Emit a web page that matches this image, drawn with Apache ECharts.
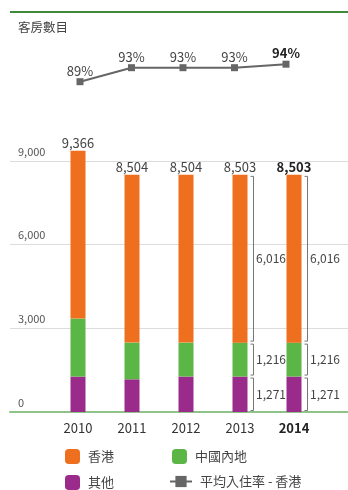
<!DOCTYPE html>
<html>
<head>
<meta charset="utf-8">
<script src="https://cdn.jsdelivr.net/npm/echarts@6/dist/echarts.min.js"></script>
<style>
  html, body { margin: 0; padding: 0; background: #fff; }
  #main { width: 348px; height: 490px; }
</style>
</head>
<body>
<div id="main"></div>
<script>
var years = ['2010', '2011', '2012', '2013', '2014'];
var hkRooms = [6016, 6016, 6016, 6016, 6016];
var cnRooms = [2079, 1316, 1217, 1216, 1216];
var otherRooms = [1271, 1172, 1271, 1271, 1271];
var occupancy = [89, 93, 93, 93, 94];
var bracketYears = ['2013', '2014'];

var FONT = "'Noto Sans CJK TC',sans-serif";
var ORANGE = '#ee6f1e', GREEN = '#5bb646', PURPLE = '#9b2b8a', GREY = '#666666';

function fmt(v) {
    return String(v).replace(/\B(?=(\d{3})+(?!\d))/g, ',');
}

var totals = [];
for (var i = 0; i < years.length; i++) {
    totals.push(hkRooms[i] + cnRooms[i] + otherRooms[i]);
}

// top (hk) series carries the total label
var hkData = [];
for (var i = 0; i < years.length; i++) {
    hkData.push({
        value: hkRooms[i],
        label: {
            formatter: fmt(totals[i]),
            fontWeight: years[i] == '2014' ? 'bold' : 'normal',
            color: years[i] == '2014' ? '#222' : '#444'
        }
    });
}

var lineData = [];
for (var i = 0; i < years.length; i++) {
    lineData.push({
        value: occupancy[i],
        label: {
            fontWeight: years[i] == '2014' ? 'bold' : 'normal',
            color: years[i] == '2014' ? '#222' : '#444'
        }
    });
}

// bracket segments beside the 2013 / 2014 bars
var bracketData = [];
for (var i = 0; i < years.length; i++) {
    if (bracketYears.indexOf(years[i]) < 0) continue;
    var a = otherRooms[i], b = a + cnRooms[i], c = b + hkRooms[i];
    bracketData.push([years[i], 0, a, fmt(otherRooms[i])]);
    bracketData.push([years[i], a, b, fmt(cnRooms[i])]);
    bracketData.push([years[i], b, c, fmt(hkRooms[i])]);
}

var legendText = { fontFamily: FONT, fontSize: 13, color: '#444', padding: [0, 0, 0, 3] };

var myChart = echarts.init(document.getElementById('main'));
var option = {
    animation: false,
    textStyle: { fontFamily: FONT },
    title: {
        text: '客房數目',
        left: 18,
        top: 21,
        padding: 0,
        textStyle: { fontFamily: FONT, fontSize: 12.5, fontWeight: 'normal', color: '#444' }
    },
    graphic: [
        { type: 'rect', left: 10, top: 11, shape: { width: 338, height: 2 }, style: { fill: '#3f8a3a' } }
    ],
    legend: [
        { data: ['香港'], left: 65, top: 449, padding: 0, itemWidth: 15, itemHeight: 15, textStyle: legendText },
        { data: ['中國內地'], left: 172, top: 449, padding: 0, itemWidth: 15, itemHeight: 15, textStyle: legendText },
        { data: ['其他'], left: 65, top: 475, padding: 0, itemWidth: 15, itemHeight: 15, textStyle: legendText },
        { data: ['平均入住率 - 香港'], left: 169, top: 475, padding: 0, itemWidth: 22, itemHeight: 14, textStyle: legendText }
    ],
    grid: [
        // full-width grid: gridlines, y labels, green baseline
        { left: 10, right: 0, top: 161, height: 251 },
        // bars
        { left: 51, right: 27, top: 161, height: 251 },
        // occupancy line
        { left: 54.25, right: 36.25, top: 53.7, height: 42 }
    ],
    xAxis: [
        {
            gridIndex: 0,
            type: 'value',
            min: 0,
            max: 1,
            splitLine: { show: false },
            axisLine: { show: true, lineStyle: { color: '#8fc38a', width: 2 } },
            axisTick: { show: false },
            axisLabel: { show: false }
        },
        {
            gridIndex: 1,
            type: 'category',
            data: years,
            axisLine: { show: false },
            axisTick: { show: false },
            axisLabel: {
                interval: 0,
                margin: 10,
                fontSize: 13,
                color: '#333',
                formatter: function (v) {
                    return v == '2014' ? '{b|' + v + '}' : v;
                },
                rich: { b: { fontWeight: 'bold', fontSize: 13, color: '#222', fontFamily: FONT } }
            }
        },
        {
            gridIndex: 2,
            type: 'category',
            data: years,
            show: false
        }
    ],
    yAxis: [
        {
            gridIndex: 0,
            type: 'value',
            min: 0,
            max: 9000,
            interval: 3000,
            axisLine: { show: false },
            axisTick: { show: false },
            splitLine: { lineStyle: { color: '#dddddd', width: 1 } },
            axisLabel: {
                inside: true,
                margin: 8,
                verticalAlign: 'bottom',
                padding: [0, 0, 4, 0],
                fontSize: 11,
                color: '#555',
                formatter: function (v) { return fmt(v); }
            }
        },
        {
            gridIndex: 1,
            type: 'value',
            min: 0,
            max: 9000,
            show: false
        },
        {
            gridIndex: 2,
            type: 'value',
            min: 85,
            max: 97,
            show: false
        }
    ],
    series: [
        {
            name: '其他',
            type: 'bar',
            xAxisIndex: 1,
            yAxisIndex: 1,
            stack: 'rooms',
            barWidth: 15,
            clip: false,
            itemStyle: { color: PURPLE },
            data: otherRooms
        },
        {
            name: '中國內地',
            type: 'bar',
            xAxisIndex: 1,
            yAxisIndex: 1,
            stack: 'rooms',
            barWidth: 15,
            clip: false,
            itemStyle: { color: GREEN },
            data: cnRooms
        },
        {
            name: '香港',
            type: 'bar',
            xAxisIndex: 1,
            yAxisIndex: 1,
            stack: 'rooms',
            barWidth: 15,
            clip: false,
            itemStyle: { color: ORANGE },
            label: { show: true, position: 'top', distance: 1, fontSize: 13, fontFamily: FONT },
            data: hkData
        },
        {
            name: 'bracket',
            type: 'custom',
            xAxisIndex: 1,
            yAxisIndex: 1,
            silent: true,
            clip: false,
            renderItem: function (params, api) {
                var top = api.coord([api.value(0), api.value(2)]);
                var bot = api.coord([api.value(0), api.value(1)]);
                var bx = top[0] + 7.5 + 6;
                var y1 = top[1] + 1.5, y2 = bot[1] - 1.5;
                return {
                    type: 'group',
                    children: [
                        {
                            type: 'polyline',
                            shape: { points: [[bx - 3, y1], [bx, y1], [bx, y2], [bx - 3, y2]] },
                            style: { stroke: '#777', lineWidth: 1, fill: null }
                        },
                        {
                            type: 'text',
                            x: bx + 2.5,
                            y: (y1 + y2) / 2,
                            style: {
                                text: api.value(3),
                                fontFamily: FONT,
                                fontSize: 12,
                                fill: '#444',
                                verticalAlign: 'middle',
                                align: 'left'
                            }
                        }
                    ]
                };
            },
            encode: { x: 0, y: [1, 2] },
            data: bracketData,
            z: 5
        },
        {
            name: '平均入住率 - 香港',
            type: 'line',
            xAxisIndex: 2,
            yAxisIndex: 2,
            symbol: 'rect',
            symbolSize: 7,
            lineStyle: { color: GREY, width: 2 },
            itemStyle: { color: GREY },
            label: {
                show: true,
                position: 'top',
                distance: 1,
                fontSize: 13,
                formatter: function (p) { return p.value + '%'; }
            },
            data: lineData
        }
    ]
};

myChart.setOption(option);
</script>
</body>
</html>
